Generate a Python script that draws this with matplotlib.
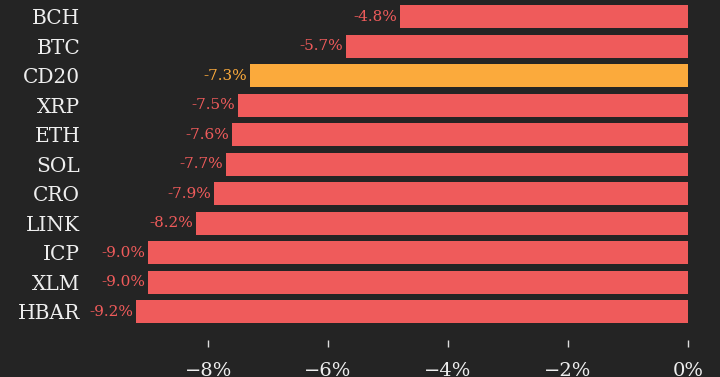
import matplotlib
matplotlib.use("Agg")
import matplotlib.pyplot as plt

coins = ["BCH", "BTC", "CD20", "XRP", "ETH", "SOL", "CRO", "LINK", "ICP", "XLM", "HBAR"]
changes = [-4.8, -5.7, -7.3, -7.5, -7.6, -7.7, -7.9, -8.2, -9.0, -9.0, -9.2]
highlight = "CD20"
xticks = [-8, -6, -4, -2, 0]
xtick_labels = ["\u22128%", "\u22126%", "\u22124%", "\u22122%", "0%"]

BG = "#242424"
RED = "#ef5b5b"
ORANGE = "#fbaa3c"
FONT = "DejaVu Serif"

fig = plt.figure(figsize=(7.2, 3.77), dpi=100, facecolor=BG)
ax = fig.add_axes([90/720, 37/377, 610/720, 340/377], facecolor=BG)

colors = [ORANGE if c == highlight else RED for c in coins]
ys = list(range(len(coins)))
ax.barh(ys, changes, height=0.78, color=colors)

for y, v, c in zip(ys, changes, colors):
    ax.text(v - 0.05, y, f"{v:.1f}%", ha="right", va="center", color=c,
            fontsize=11, family=FONT)

ax.set_xlim(-9.97, 0.2)
ax.set_ylim(10.95, -0.576)
ax.set_yticks(ys)
ax.set_yticklabels(coins, family=FONT, fontsize=14.5, color="#eeeeee")
ax.set_xticks(xticks)
ax.set_xticklabels(xtick_labels, family=FONT, fontsize=14, color="#eeeeee")
ax.tick_params(axis="y", length=0, pad=7)
ax.tick_params(axis="x", length=5, width=1, color="#dddddd", pad=11)
for s in ax.spines.values():
    s.set_visible(False)

fig.savefig("out.png", dpi=100, facecolor=BG)
